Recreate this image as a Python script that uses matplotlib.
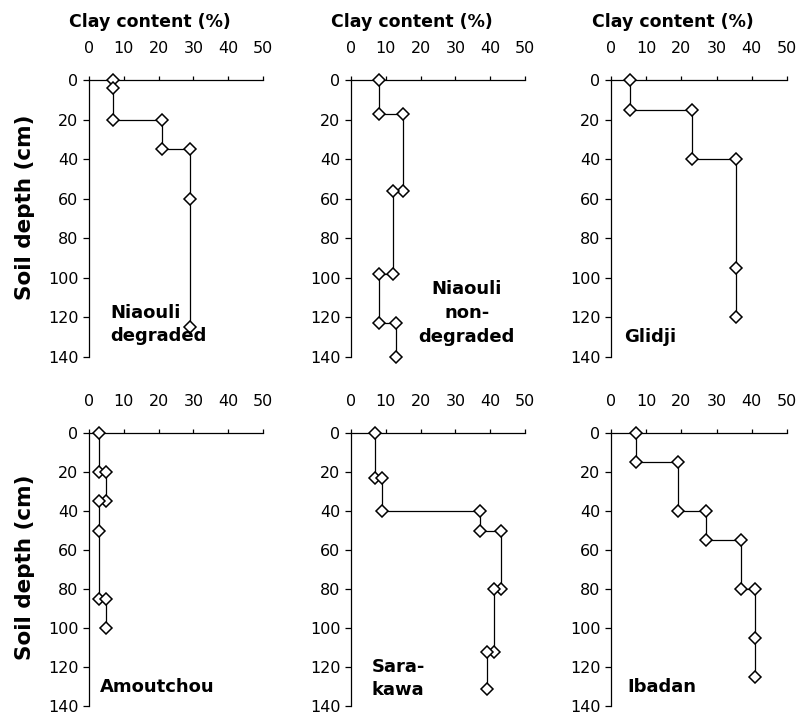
import matplotlib
matplotlib.use('Agg')
import matplotlib.pyplot as plt

plt.rcParams['font.family'] = ['DejaVu Sans']

# clay content (%) vs soil depth (cm), step profiles
niaouli_deg_clay = [7, 7, 7, 21, 21, 29, 29, 29]
niaouli_deg_depth = [0, 4, 20, 20, 35, 35, 60, 125]

niaouli_nondeg_clay = [8, 8, 15, 15, 12, 12, 8, 8, 13, 13]
niaouli_nondeg_depth = [0, 17, 17, 56, 56, 98, 98, 123, 123, 140]

glidji_clay = [5.5, 5.5, 23, 23, 35.5, 35.5, 35.5]
glidji_depth = [0, 15, 15, 40, 40, 95, 120]

amoutchou_clay = [3, 3, 5, 5, 3, 3, 3, 5, 5]
amoutchou_depth = [0, 20, 20, 35, 35, 50, 85, 85, 100]

sarakawa_clay = [7, 7, 9, 9, 37, 37, 43, 43, 41, 41, 39, 39]
sarakawa_depth = [0, 23, 23, 40, 40, 50, 50, 80, 80, 112, 112, 131]

ibadan_clay = [7, 7, 19, 19, 27, 27, 37, 37, 41, 41, 41]
ibadan_depth = [0, 15, 15, 40, 40, 55, 55, 80, 80, 105, 125]

site_names = ['Niaouli\ndegraded', 'Niaouli\nnon-\ndegraded', 'Glidji',
              'Amoutchou', 'Sara-\nkawa', 'Ibadan']

xticks = [0, 10, 20, 30, 40, 50]
yticks = [0, 20, 40, 60, 80, 100, 120, 140]

profiles = [
    (niaouli_deg_clay, niaouli_deg_depth),
    (niaouli_nondeg_clay, niaouli_nondeg_depth),
    (glidji_clay, glidji_depth),
    (amoutchou_clay, amoutchou_depth),
    (sarakawa_clay, sarakawa_depth),
    (ibadan_clay, ibadan_depth),
]

# where the site name sits (data coords) and how it's aligned
name_pos = [(6, 123.5, 'left'), (33.3, 117.8, 'center'), (3.7, 130, 'left'),
            (3.2, 130, 'left'), (6, 125.7, 'left'), (4.6, 130, 'left')]

fig = plt.figure(figsize=(7.99, 7.17), dpi=100)

lefts = [0.1114, 0.4393, 0.7647]
widths = [0.2178, 0.2178, 0.2203]
bottoms = [0.5021, 0.0150]
heights = [0.3863, 0.3811]
ylab_y = [0.54, 0.51]

for i, (clay, depth) in enumerate(profiles):
    row, col = divmod(i, 3)
    ax = fig.add_axes([lefts[col], bottoms[row], widths[col], heights[row]])
    ax.plot(clay, depth, color='black', lw=0.9, marker='D', ms=6,
            mfc='white', mec='black', mew=1.1, clip_on=False, zorder=3)
    ax.set_xlim(0, 50)
    ax.set_ylim(140, 0)
    ax.set_xticks(xticks)
    ax.set_yticks(yticks)
    ax.xaxis.tick_top()
    ax.spines['right'].set_visible(False)
    ax.spines['bottom'].set_visible(False)
    for s in ['left', 'top']:
        ax.spines[s].set_linewidth(0.9)
    ax.tick_params(axis='x', direction='out', length=3, width=0.9, pad=14,
                   labelsize=11.5, colors='black')
    ax.tick_params(axis='y', direction='out', length=4.5, width=0.9, pad=3,
                   labelsize=11.5)

    nx, ny, ha = name_pos[i]
    ax.text(nx, ny, site_names[i], ha=ha, va='center', fontsize=13,
            fontweight='bold', linespacing=1.4)

    if row == 0:
        ax.text(0.35, 1.21, 'Clay content (%)', transform=ax.transAxes,
                ha='center', va='center', fontsize=12.5, fontweight='bold')
    if col == 0:
        ax.set_ylabel('Soil depth (cm)', fontsize=15.5, fontweight='bold')
        ax.yaxis.set_label_coords(-0.31, ylab_y[row])

fig.savefig('out.png', dpi=100, facecolor='white')
